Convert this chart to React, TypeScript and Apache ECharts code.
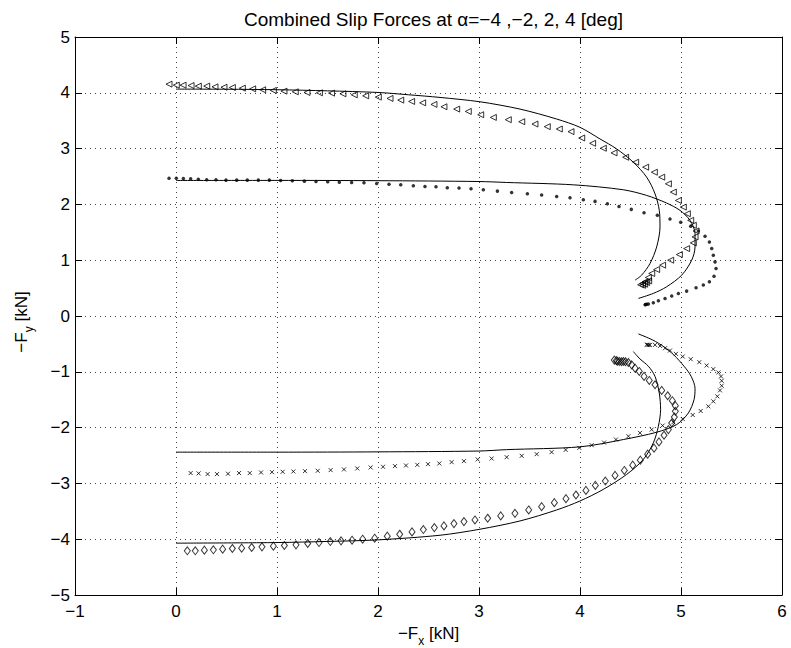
import React, { useEffect, useRef } from 'react';
import * as echarts from 'echarts';

const titleText = 'Combined Slip Forces at α=−4 ,−2, 2, 4 [deg]';
const xRange = [-1, 6];
const yRange = [-5, 5];

// measured points (markers)
const measAlpha4: number[][] = [
  [-0.069, 4.155], [0.003, 4.137], [0.07, 4.137], [0.149, 4.13], [0.221, 4.12], [0.304, 4.12], [0.386, 4.107],
  [0.475, 4.1], [0.558, 4.095], [0.657, 4.083], [0.759, 4.071], [0.858, 4.054], [0.964, 4.042], [1.069, 4.03],
  [1.181, 4.018], [1.297, 4.006], [1.42, 4.0], [1.54, 3.994], [1.653, 3.982], [1.765, 3.964], [1.878, 3.946],
  [2.003, 3.923], [2.119, 3.899], [2.225, 3.869], [2.333, 3.845], [2.442, 3.82], [2.554, 3.792], [2.653, 3.75],
  [2.779, 3.708], [2.894, 3.666], [3.017, 3.607], [3.142, 3.559], [3.29, 3.518], [3.423, 3.482], [3.554, 3.44],
  [3.676, 3.393], [3.795, 3.351], [3.911, 3.304], [4.017, 3.19], [4.125, 3.095], [4.231, 3.006], [4.337, 2.923],
  [4.452, 2.845], [4.551, 2.756], [4.65, 2.667], [4.736, 2.577], [4.809, 2.488], [4.875, 2.369], [4.924, 2.22],
  [4.974, 2.071], [5.023, 1.952], [5.063, 1.833], [5.096, 1.714], [5.122, 1.625], [5.149, 1.524], [5.139, 1.417],
  [5.122, 1.31], [5.056, 1.208], [4.984, 1.101], [4.898, 1.0], [4.818, 0.911], [4.759, 0.833], [4.71, 0.762],
  [4.677, 0.69], [4.644, 0.613], [4.62, 0.583], [4.6, 0.56], [4.62, 0.55], [4.64, 0.57], [4.66, 0.6], [4.68, 0.63]
];
const measAlpha2: number[][] = [
  [-0.069, 2.47], [0.003, 2.47], [0.073, 2.464], [0.145, 2.458], [0.221, 2.452], [0.304, 2.44], [0.396, 2.44],
  [0.495, 2.435], [0.601, 2.435], [0.706, 2.435], [0.815, 2.435], [0.924, 2.435], [1.036, 2.43], [1.152, 2.423],
  [1.271, 2.417], [1.386, 2.411], [1.502, 2.405], [1.617, 2.399], [1.739, 2.393], [1.861, 2.387], [1.987, 2.375],
  [2.109, 2.363], [2.225, 2.351], [2.35, 2.333], [2.465, 2.321], [2.574, 2.315], [2.686, 2.298], [2.802, 2.292],
  [2.921, 2.28], [3.043, 2.262], [3.182, 2.238], [3.323, 2.214], [3.479, 2.19], [3.62, 2.167], [3.769, 2.143],
  [3.901, 2.119], [4.033, 2.083], [4.149, 2.054], [4.271, 2.012], [4.386, 1.964], [4.508, 1.911], [4.634, 1.851],
  [4.766, 1.804], [4.891, 1.738], [4.997, 1.679], [5.096, 1.607], [5.172, 1.524], [5.238, 1.429], [5.281, 1.327],
  [5.304, 1.208], [5.32, 1.089], [5.337, 0.97], [5.347, 0.851], [5.327, 0.714], [5.281, 0.613], [5.221, 0.554],
  [5.149, 0.506], [5.056, 0.446], [4.974, 0.405], [4.908, 0.357], [4.842, 0.315], [4.776, 0.274], [4.726, 0.238],
  [4.677, 0.214], [4.66, 0.21], [4.65, 0.205], [4.645, 0.2]
];
const measAlphaM2: number[][] = [
  [0.145, -2.815], [0.224, -2.821], [0.313, -2.833], [0.406, -2.833], [0.515, -2.827], [0.624, -2.815],
  [0.73, -2.815], [0.842, -2.804], [0.95, -2.798], [1.056, -2.792], [1.162, -2.786], [1.277, -2.78],
  [1.403, -2.774], [1.531, -2.762], [1.663, -2.75], [1.795, -2.732], [1.927, -2.714], [2.05, -2.702],
  [2.168, -2.69], [2.277, -2.679], [2.389, -2.667], [2.495, -2.655], [2.607, -2.643], [2.729, -2.619],
  [2.851, -2.601], [2.987, -2.571], [3.125, -2.554], [3.274, -2.53], [3.423, -2.506], [3.571, -2.476],
  [3.719, -2.44], [3.858, -2.399], [3.993, -2.363], [4.116, -2.315], [4.238, -2.268], [4.356, -2.214],
  [4.479, -2.155], [4.594, -2.095], [4.71, -2.036], [4.818, -1.964], [4.924, -1.905], [5.017, -1.845],
  [5.116, -1.774], [5.195, -1.702], [5.271, -1.619], [5.32, -1.53], [5.36, -1.44], [5.386, -1.333],
  [5.403, -1.25], [5.403, -1.161], [5.396, -1.083], [5.37, -1.012], [5.32, -0.952], [5.254, -0.887],
  [5.181, -0.827], [5.096, -0.774], [5.017, -0.726], [4.95, -0.679], [4.891, -0.619], [4.842, -0.577],
  [4.792, -0.536], [4.743, -0.518], [4.693, -0.518], [4.67, -0.515], [4.66, -0.515], [4.68, -0.52]
];
const measAlphaM4: number[][] = [
  [0.112, -4.208], [0.191, -4.208], [0.281, -4.196], [0.37, -4.19], [0.462, -4.179], [0.558, -4.167],
  [0.65, -4.161], [0.749, -4.149], [0.851, -4.137], [0.964, -4.125], [1.073, -4.113], [1.188, -4.101],
  [1.304, -4.077], [1.416, -4.06], [1.528, -4.042], [1.634, -4.03], [1.743, -4.018], [1.848, -4.0],
  [1.967, -3.982], [2.092, -3.946], [2.215, -3.911], [2.337, -3.869], [2.449, -3.827], [2.558, -3.792],
  [2.653, -3.762], [2.752, -3.72], [2.851, -3.685], [2.96, -3.655], [3.086, -3.625], [3.215, -3.583],
  [3.356, -3.536], [3.492, -3.476], [3.62, -3.417], [3.746, -3.345], [3.861, -3.274], [3.96, -3.208],
  [4.059, -3.125], [4.152, -3.036], [4.251, -2.958], [4.347, -2.857], [4.439, -2.768], [4.522, -2.673],
  [4.597, -2.583], [4.67, -2.476], [4.733, -2.369], [4.782, -2.256], [4.832, -2.137], [4.875, -2.036],
  [4.908, -1.917], [4.934, -1.81], [4.944, -1.708], [4.944, -1.607], [4.914, -1.518], [4.868, -1.429],
  [4.809, -1.333], [4.743, -1.232], [4.686, -1.155], [4.634, -1.083], [4.587, -0.994], [4.545, -0.935],
  [4.512, -0.875], [4.479, -0.833], [4.429, -0.815], [4.389, -0.815], [4.36, -0.8], [4.34, -0.79],
  [4.37, -0.81], [4.41, -0.82], [4.45, -0.82]
];

// model curves (solid lines)
const modelAlpha4: number[][] = [
  [0, 4.066], [0.5, 4.064], [1.0, 4.055], [1.5, 4.035], [2.0, 4.006], [2.3, 3.965], [2.614, 3.917],
  [3.01, 3.839], [3.406, 3.708], [3.769, 3.53], [4.0, 3.381], [4.198, 3.173], [4.363, 2.994], [4.528, 2.756],
  [4.66, 2.488], [4.743, 2.19], [4.785, 1.893], [4.792, 1.595], [4.759, 1.238], [4.693, 0.94], [4.61, 0.732],
  [4.545, 0.643]
];
const modelAlpha2: number[][] = [
  [0, 2.429], [1, 2.43], [2, 2.425], [3.0, 2.41], [3.274, 2.393], [3.934, 2.351], [4.429, 2.262],
  [4.66, 2.161], [4.858, 2.024], [4.99, 1.893], [5.089, 1.714], [5.139, 1.476], [5.139, 1.238], [5.106, 1.0],
  [5.007, 0.732], [4.858, 0.524], [4.726, 0.405], [4.578, 0.315]
];
const modelAlphaM2: number[][] = [
  [0, -2.44], [1, -2.44], [2, -2.435], [3.0, -2.42], [3.274, -2.395], [4.0, -2.345], [4.429, -2.214],
  [4.759, -2.083], [4.957, -1.946], [5.073, -1.738], [5.129, -1.5], [5.139, -1.3], [5.1, -1.08],
  [5.03, -0.9], [4.93, -0.7], [4.83, -0.55], [4.72, -0.43], [4.578, -0.321]
];
const modelAlphaM4: number[][] = [
  [0, -4.071], [1, -4.06], [1.5, -4.04], [2, -4.012], [2.614, -3.929], [3.01, -3.821], [3.406, -3.673],
  [3.769, -3.476], [4.0, -3.315], [4.231, -3.107], [4.462, -2.839], [4.627, -2.571], [4.726, -2.274],
  [4.776, -1.976], [4.798, -1.679], [4.785, -1.381], [4.743, -1.083], [4.677, -0.9], [4.594, -0.77],
  [4.528, -0.637]
];

const FONT = 'Liberation Sans, Arial, Helvetica, sans-serif';
const minus = (v: number) => String(v).replace('-', '−');

export default function App() {
  const ref = useRef<HTMLDivElement>(null);
  useEffect(() => {
    if (!ref.current) return;
    const chart = echarts.init(ref.current, undefined, { renderer: 'svg' });
    const hollow = { color: 'rgba(0,0,0,0)', borderColor: '#000', borderWidth: 1 };
    const lineSeries = (data: number[][]) => ({
      type: 'line', data, showSymbol: false, symbol: 'none', smooth: 0.3,
      lineStyle: { color: '#000', width: 1 }, z: 3,
    });
    const rich = {
      a: { fontSize: 17, fontFamily: FONT, color: '#000', lineHeight: 17, verticalAlign: 'top' },
      s: { fontSize: 12, fontFamily: FONT, color: '#000', lineHeight: 22, verticalAlign: 'bottom' },
    };
    const axisLine = { show: true, onZero: false, lineStyle: { color: '#000', width: 1 } };
    const axisTick = { show: true, inside: true, length: 7, lineStyle: { color: '#000' } };
    const splitLine = { show: true, lineStyle: { color: '#444', width: 1, type: [1, 4] } };
    const baseX = { type: 'value', min: xRange[0], max: xRange[1], interval: 1 };
    const baseY = { type: 'value', min: yRange[0], max: yRange[1], interval: 1 };
    chart.setOption({
      animation: false,
      backgroundColor: '#fff',
      title: {
        text: titleText, left: 428.5, top: 5, textAlign: 'center',
        textStyle: { fontSize: 19, fontWeight: 'normal', fontFamily: FONT, color: '#000' },
      },
      grid: { left: 75, right: 9, top: 37, bottom: 53, containLabel: false, outerBoundsMode: 'none' },
      xAxis: [
        {
          ...baseX, position: 'bottom', axisLine, axisTick, splitLine,
          axisLabel: { fontSize: 17, fontFamily: FONT, color: '#000', margin: 8, formatter: minus },
          name: '{a|−F}{s|x}{a| [kN]}', nameLocation: 'middle', nameGap: 23,
          nameTextStyle: { rich },
        },
        {
          ...baseX, position: 'top', axisLine, axisTick,
          axisLabel: { show: false }, splitLine: { show: false },
        },
      ],
      yAxis: [
        {
          ...baseY, position: 'left', axisLine, axisTick, splitLine,
          axisLabel: { fontSize: 17, fontFamily: FONT, color: '#000', margin: 5, formatter: minus },
          name: '{a|−F}{s|y}{a| [kN]}', nameLocation: 'middle', nameGap: 40,
          nameTextStyle: { rich, padding: [0, 12, 0, 0] },
        },
        {
          ...baseY, position: 'right', axisLine, axisTick,
          axisLabel: { show: false }, splitLine: { show: false },
        },
      ],
      series: [
        lineSeries(modelAlpha4),
        lineSeries(modelAlpha2),
        lineSeries(modelAlphaM2),
        lineSeries(modelAlphaM4),
        {
          type: 'scatter', data: measAlpha4, symbol: 'triangle', symbolRotate: 90, symbolSize: 6,
          itemStyle: hollow, z: 4,
        },
        {
          type: 'scatter', data: measAlpha2, symbol: 'circle', symbolSize: 3.5,
          itemStyle: { color: '#000' }, z: 4,
        },
        {
          type: 'scatter', data: measAlphaM2, symbol: 'path://M0,0L10,10M10,0L0,10', symbolSize: 4,
          itemStyle: { color: 'rgba(0,0,0,0)', borderColor: '#000', borderWidth: 1 }, z: 4,
        },
        {
          type: 'scatter', data: measAlphaM4, symbol: 'diamond', symbolSize: [6, 8],
          itemStyle: hollow, z: 4,
        },
      ],
    });
    return () => chart.dispose();
  }, []);
  return (
    <div
      ref={ref}
      style={{ position: 'absolute', left: 0, top: 0, width: 791, height: 648 }}
    />
  );
}
